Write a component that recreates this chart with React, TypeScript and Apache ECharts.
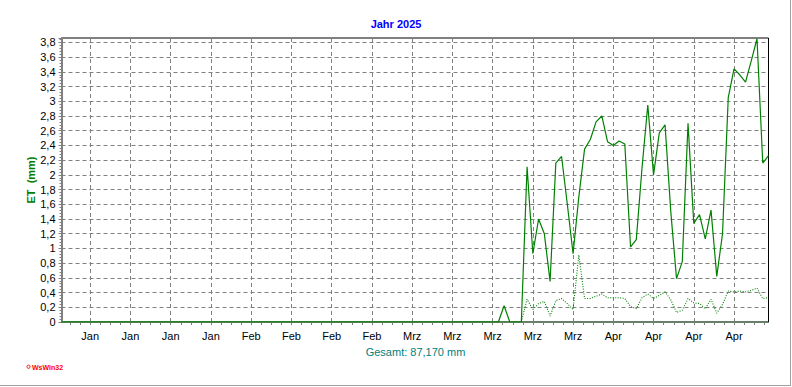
import React, { useEffect, useRef } from "react";
import * as echarts from "echarts";

// ---- data ----
const startDate = "2025-01-01";
const dayCount = 124;
const monthNames = ["Jan", "Feb", "Mrz", "Apr", "Mai", "Jun", "Jul", "Aug", "Sep", "Okt", "Nov", "Dez"];
const yTickValues = [0, 0.2, 0.4, 0.6, 0.8, 1, 1.2, 1.4, 1.6, 1.8, 2, 2.2, 2.4, 2.6, 2.8, 3, 3.2, 3.4, 3.6, 3.8];

const etValues = [
  0, 0, 0, 0, 0, 0, 0, 0, 0, 0,
  0, 0, 0, 0, 0, 0, 0, 0, 0, 0,
  0, 0, 0, 0, 0, 0, 0, 0, 0, 0,
  0, 0, 0, 0, 0, 0, 0, 0, 0, 0,
  0, 0, 0, 0, 0, 0, 0, 0, 0, 0,
  0, 0, 0, 0, 0, 0, 0, 0, 0, 0,
  0, 0, 0, 0, 0, 0, 0, 0, 0, 0,
  0, 0, 0, 0, 0, 0, 0, 0.22, 0, 0,
  0, 2.11, 0.93, 1.4, 1.2, 0.55, 2.16, 2.25, 1.6, 0.93,
  1.7, 2.35, 2.48, 2.72, 2.8, 2.45, 2.4, 2.46, 2.42, 1.02,
  1.12, 2.1, 2.95, 2.0, 2.57, 2.68, 1.5, 0.59, 0.82, 2.7,
  1.34, 1.46, 1.13, 1.52, 0.62, 1.2, 3.05, 3.44, 3.36, 3.26,
  3.55, 3.85, 2.16, 2.26,
];

const etDottedValues = [
  0, 0, 0, 0, 0, 0, 0, 0, 0, 0,
  0, 0, 0, 0, 0, 0, 0, 0, 0, 0,
  0, 0, 0, 0, 0, 0, 0, 0, 0, 0,
  0, 0, 0, 0, 0, 0, 0, 0, 0, 0,
  0, 0, 0, 0, 0, 0, 0, 0, 0, 0,
  0, 0, 0, 0, 0, 0, 0, 0, 0, 0,
  0, 0, 0, 0, 0, 0, 0, 0, 0, 0,
  0, 0, 0, 0, 0, 0, 0, 0, 0, 0,
  0, 0.31, 0.17, 0.25, 0.28, 0.08, 0.29, 0.32, 0.25, 0.17,
  0.91, 0.32, 0.32, 0.35, 0.38, 0.33, 0.33, 0.33, 0.32, 0.21,
  0.18, 0.33, 0.38, 0.32, 0.36, 0.41, 0.3, 0.13, 0.16, 0.32,
  0.26, 0.25, 0.18, 0.31, 0.12, 0.24, 0.42, 0.41, 0.42, 0.41,
  0.43, 0.46, 0.32, 0.33,
];

const baseValues = [
  0, 0, 0, 0, 0, 0, 0, 0, 0, 0,
  0, 0, 0, 0, 0, 0, 0, 0, 0, 0,
  0, 0, 0, 0, 0, 0, 0, 0, 0, 0,
  0, 0, 0, 0, 0, 0, 0, 0, 0, 0,
  0, 0, 0, 0, 0, 0, 0, 0, 0, 0,
  0, 0, 0, 0, 0, 0, 0, 0, 0, 0,
  0, 0, 0, 0, 0, 0, 0, 0, 0, 0,
  0, 0, 0, 0, 0, 0, 0, 0, 0, 0,
  0, 0, 0, 0, 0, 0, 0, 0, 0, 0,
  0, 0, 0, 0, 0, 0, 0, 0, 0, 0,
  0, 0, 0, 0, 0, 0, 0, 0, 0, 0,
  0, 0, 0, 0, 0, 0, 0, 0, 0, 0,
  0, 0, 0, 0,
];

const titleText = "Jahr 2025";
const yName = "ET  (mm)";
const totalText = "Gesamt: 87,170 mm";
const logoText = "WsWin32";

function buildDays(): string[] {
  const out: string[] = [];
  const t0 = Date.parse(startDate + "T00:00:00Z");
  for (let i = 0; i < dayCount; i++) {
    out.push(new Date(t0 + i * 86400000).toISOString().slice(0, 10));
  }
  return out;
}

export default function App() {
  const ref = useRef<HTMLDivElement>(null);
  useEffect(() => {
    if (!ref.current) return;
    const chart = echarts.init(ref.current, undefined, { renderer: "svg" });
    const days = buildDays();
    const isMonday = (idx: number) => new Date(days[idx] + "T00:00:00Z").getUTCDay() === 1;
    const font = "Liberation Sans";
    const green = "#008000";
    const gray = "#808080";
    const option: any = {
      animation: false,
      backgroundColor: "#ffffff",
      title: {
        text: titleText,
        left: "center",
        top: 18,
        padding: 0,
        textStyle: { color: "#0000ff", fontSize: 11, fontWeight: "bold", fontFamily: font },
      },
      grid: [
        { left: 61.5, right: 23.5, top: 38, bottom: 65, show: true, borderColor: "#000", borderWidth: 1, backgroundColor: "transparent" },
        { left: 70.1, right: 27.7, top: 38, bottom: 65, show: false },
      ],
      xAxis: [
        {
          type: "category",
          gridIndex: 0,
          data: days,
          boundaryGap: false,
          axisLine: { show: true, lineStyle: { color: gray, width: 1 } },
          axisTick: { show: false },
          axisLabel: {
            interval: (idx: number) => isMonday(idx),
            formatter: (v: string) => monthNames[new Date(v + "T00:00:00Z").getUTCMonth()],
            color: "#000",
            fontSize: 11,
            fontFamily: font,
            margin: 8,
          },
          splitLine: {
            show: true,
            interval: (idx: number) => isMonday(idx),
            lineStyle: { color: gray, type: [4, 3], width: 1 },
          },
        },
        {
          type: "value",
          gridIndex: 1,
          min: 0,
          max: 69,
          interval: 1,
          axisLine: { show: false },
          axisTick: { show: true, length: 3, lineStyle: { color: gray, width: 1 } },
          axisLabel: { show: false },
          splitLine: { show: false },
        },
      ],
      yAxis: [
        {
          type: "value",
          gridIndex: 0,
          min: yTickValues[0],
          max: 3.86,
          interval: 0.2,
          name: yName,
          nameLocation: "middle",
          nameGap: 25,
          nameMoveOverlap: false,
          nameRotate: 90,
          nameTextStyle: { color: green, fontWeight: "bold", fontSize: 11, fontFamily: font },
          axisLine: { show: true, lineStyle: { color: gray, width: 2 } },
          axisTick: { show: true, length: 3, lineStyle: { color: gray } },
          minorTick: { show: true, splitNumber: 5, length: 2, lineStyle: { color: gray } },
          axisLabel: {
            showMaxLabel: false,
            color: "#000",
            fontSize: 11,
            fontFamily: font,
            margin: 6,
            formatter: (v: number) => String(Math.round(v * 10) / 10).replace(".", ","),
          },
          splitLine: { show: true, lineStyle: { color: gray, type: [4, 3], width: 1 } },
        },
        { type: "value", gridIndex: 1, min: 0, max: 1, show: false },
      ],
      series: [
        {
          name: "Basis",
          type: "line",
          data: baseValues,
          showSymbol: false,
          lineStyle: { color: green, width: 1, type: [1, 1] },
          z: 3,
        },
        {
          name: "ET Referenz",
          type: "line",
          data: etDottedValues,
          showSymbol: false,
          lineStyle: { color: green, width: 1.1, type: [1, 1.5] },
          z: 4,
        },
        {
          name: "ET",
          type: "line",
          data: etValues,
          showSymbol: false,
          lineStyle: { color: green, width: 1.2 },
          z: 5,
        },
      ],
      graphic: [
        {
          type: "text",
          x: 415.5,
          y: 352,
          style: { text: totalText, align: "center", verticalAlign: "middle", fill: "#008080", fontSize: 11, fontFamily: font },
        },
        {
          type: "circle",
          shape: { cx: 28.5, cy: 366.7, r: 1.6 },
          style: { fill: "none", stroke: "#ff0000", lineWidth: 1 },
        },
        {
          type: "text",
          x: 32,
          y: 367,
          style: { text: logoText, align: "left", verticalAlign: "middle", fill: "#ff0000", fontSize: 7, fontWeight: "bold", fontFamily: font },
        },
        {
          type: "line",
          shape: { x1: 790.5, y1: 0, x2: 790.5, y2: 386 },
          style: { stroke: "#a0a0a0", lineWidth: 1 },
        },
        {
          type: "line",
          shape: { x1: 0, y1: 385.5, x2: 791, y2: 385.5 },
          style: { stroke: "#a0a0a0", lineWidth: 1 },
        },
      ],
    };
    chart.setOption(option);
    return () => chart.dispose();
  }, []);
  return (
    <div
      ref={ref}
      style={{ position: "fixed", left: 0, top: 0, width: 792, height: 387, background: "#fff" }}
    />
  );
}
